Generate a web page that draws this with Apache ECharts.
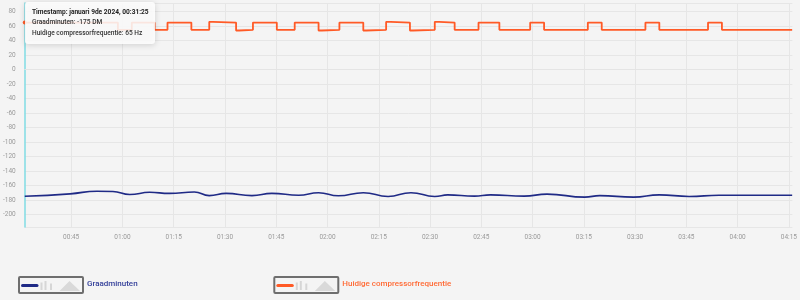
<!DOCTYPE html>
<html>
<head>
<meta charset="utf-8">
<script src="https://cdn.jsdelivr.net/npm/echarts@6/dist/echarts.min.js"></script>
<style>
html,body{margin:0;padding:0;background:#f4f4f4;}
#chart{width:800px;height:300px;}
</style>
</head>
<body>
<div id="chart"></div>
<script>
var day = '2024-01-09 ';
var axisStart = '00:31:25';
var axisEnd = '04:16:00';
var xTickLabels = ['00:45','01:00','01:15','01:30','01:45','02:00','02:15','02:30','02:45','03:00','03:15','03:30','03:45','04:00','04:15'];
var yTickLabels = [-200, -180, -160, -140, -120, -100, -80, -60, -40, -20, 0, 20, 40, 60, 80];

var seriesNames = ['Graadminuten', 'Huidige compressorfrequentie'];
var seriesUnits = ['DM', 'Hz'];

var graadTimes = ['00:31:25','00:44:42','00:52:33','00:57:12','01:02:09','01:07:57','01:13:46','01:21:02','01:25:24','01:30:20','01:37:54','01:43:43','01:51:34','01:57:23','02:03:11','02:10:28','02:17:43','02:24:25','02:31:23','02:35:10','02:43:01','02:47:40','02:57:33','03:04:14','03:15:17','03:19:39','03:29:32','03:37:05','03:45:49','03:54:32','04:05:17','04:15:57'];
var graadValues = [-175,-171.6,-168,-168.3,-172.5,-169.5,-171,-169,-174,-171,-174,-171,-173.5,-170,-174.3,-170,-175.2,-170,-175.2,-173,-174.8,-173,-174.8,-172,-176.2,-174,-176.2,-173,-175.2,-173.5,-173.5,-173.5];

var freqTimes = ['00:31:25','00:58:40','01:02:44','01:09:25','01:13:11','01:20:10','01:25:24','01:26:30','01:33:15','01:34:10','01:38:11','01:45:10','01:50:24','01:57:23','01:58:20','02:03:29','02:10:28','02:11:20','02:17:09','02:18:30','02:24:07','02:25:00','02:31:23','02:32:40','02:37:12','02:44:11','02:50:17','02:59:18','03:03:22','03:16:10','03:20:14','03:33:01','03:37:05','03:51:20','03:55:24','04:15:57'];
var freqValues = [65,55,65,55,65,55,66,65,54,55,65,55,65,54,55,65,54,55,66,65,54,55,66,65,55,65,55,65,55,65,55,65,55,65,55,55];

var tooltipTitle = 'Timestamp: januari 9de 2024, ' + graadTimes[0];

var blueColor = '#1f2a86';
var orangeColor = '#ff5a26';

function toMs(t) { return echarts.time.parse(day + t).getTime(); }
function pairs(times, values) {
  return times.map(function (t, i) { return [day + t, values[i]]; });
}
var freqData = pairs(freqTimes, freqValues);
freqData[0] = { value: freqData[0], symbol: 'circle', symbolSize: 4 };
var xTickValues = xTickLabels.map(function (t) { return toMs(t + ':00'); });

function legendDecor(ox, color) {
  return {
    type: 'group', left: ox, top: 276, silent: true,
    children: [
      { type: 'rect', shape: { x: 0, y: 0, width: 64, height: 16, r: 1 }, style: { fill: 'rgba(0,0,0,0)', stroke: '#6e6e6e', lineWidth: 2 } },
      { type: 'line', shape: { x1: 3.5, y1: 8.5, x2: 18, y2: 8.5 }, style: { stroke: color, lineWidth: 3, lineCap: 'round' } },
      { type: 'rect', shape: { x: 21.5, y: 5.5, width: 2, height: 7.5 }, style: { fill: '#d6d6d6' } },
      { type: 'rect', shape: { x: 25.5, y: 4, width: 2, height: 9 }, style: { fill: '#d6d6d6' } },
      { type: 'rect', shape: { x: 31, y: 6.5, width: 2, height: 6.5 }, style: { fill: '#d6d6d6' } },
      { type: 'polygon', shape: { points: [[40.5, 14], [50.5, 4], [61, 14]] }, style: { fill: '#d9d9d9' } }
    ]
  };
}

var chart = echarts.init(document.getElementById('chart'), null, { renderer: 'canvas' });
var fontFam = 'Roboto, "Noto Sans", sans-serif';

function legendCfg(left, name, color) {
  return {
    left: left, top: 276, padding: 0, itemWidth: 64, itemHeight: 16, itemGap: 5, icon: 'rect', selectedMode: false,
    itemStyle: { color: 'rgba(0,0,0,0)', borderColor: 'rgba(0,0,0,0)' },
    lineStyle: { color: 'rgba(0,0,0,0)' },
    data: [{ name: name, textStyle: { color: color } }],
    textStyle: { fontSize: 8, fontWeight: 500, fontFamily: fontFam }
  };
}

chart.setOption({
  backgroundColor: '#f4f4f4',
  animation: false,
  textStyle: { fontFamily: fontFam },
  grid: { left: 24, right: 3, top: 3, bottom: 73, containLabel: false },
  legend: [
    legendCfg(18, seriesNames[0], '#34409a'),
    legendCfg(273.3, seriesNames[1], '#ff6a35')
  ],
  xAxis: {
    type: 'time',
    min: day + axisStart,
    max: day + axisEnd,
    axisLine: { show: true, lineStyle: { color: '#e4e4e4', width: 1 } },
    axisTick: { show: false, customValues: xTickValues },
    axisLabel: {
      customValues: xTickValues,
      formatter: '{HH}:{mm}',
      alignMinLabel: 'center', alignMaxLabel: 'center',
      fontSize: 6.5, color: '#9a9a9a', margin: 7, hideOverlap: false
    },
    splitLine: { show: true, lineStyle: { color: '#e6e6e6', width: 1 } }
  },
  yAxis: {
    type: 'value',
    min: -217.4,
    max: 92,
    splitNumber: 15,
    minInterval: 20,
    maxInterval: 20,
    axisLine: { show: true, onZero: false, lineStyle: { color: '#80dde4', width: 1.5 } },
    axisTick: { show: false },
    axisLabel: {
      showMinLabel: false, showMaxLabel: false,
      fontSize: 6.5, color: '#9a9a9a', margin: 9,
      formatter: function (v) { return yTickLabels.indexOf(Math.round(v)) >= 0 ? String(Math.round(v)) : ''; }
    },
    splitLine: { show: true, lineStyle: { color: '#e6e6e6', width: 1 } }
  },
  series: [
    {
      name: seriesNames[0], type: 'line', smooth: 0.5, showSymbol: false,
      lineStyle: { color: blueColor, width: 1.6 }, itemStyle: { color: blueColor },
      data: pairs(graadTimes, graadValues), z: 2
    },
    {
      name: seriesNames[1], type: 'line', step: 'end', symbol: 'none', showSymbol: true,
      lineStyle: { color: orangeColor, width: 1.8 }, itemStyle: { color: orangeColor },
      data: freqData, z: 3
    }
  ],
  graphic: [
    legendDecor(18, blueColor),
    legendDecor(273.3, orangeColor),
    {
      type: 'group', left: 25, top: 2, z: 100,
      children: [
        { type: 'rect', z: 100, shape: { x: 0, y: 0, width: 130, height: 42, r: 3 },
          style: { fill: 'rgba(255,255,255,0.86)', shadowBlur: 6, shadowColor: 'rgba(0,0,0,0.18)', shadowOffsetY: 1 } },
        { type: 'text', z: 101, x: 7, y: 10, style: { text: tooltipTitle, font: 'bold 6.6px Roboto, sans-serif', fill: '#222', verticalAlign: 'middle' } },
        { type: 'text', z: 101, x: 7, y: 20.7, style: { text: seriesNames[0] + ': ' + graadValues[0] + ' ' + seriesUnits[0], font: '500 6.6px Roboto, sans-serif', fill: '#333', verticalAlign: 'middle' } },
        { type: 'text', z: 101, x: 7, y: 31, style: { text: seriesNames[1] + ': ' + freqValues[0] + ' ' + seriesUnits[1], font: '500 6.6px Roboto, sans-serif', fill: '#333', verticalAlign: 'middle' } }
      ]
    }
  ]
});
</script>
</body>
</html>
